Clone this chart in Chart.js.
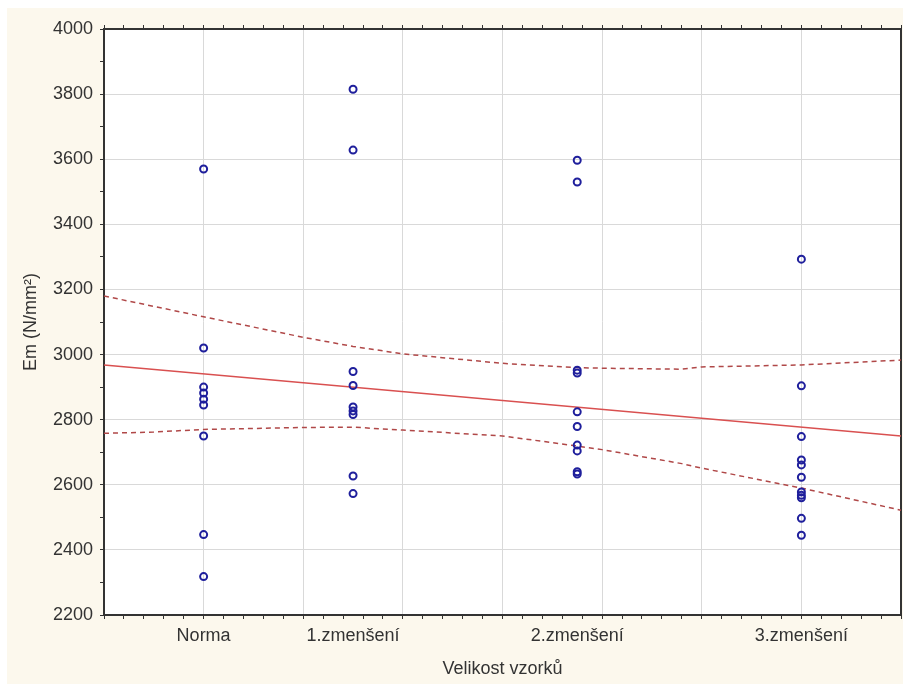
<!DOCTYPE html>
<html><head><meta charset="utf-8">
<script src="https://cdn.jsdelivr.net/npm/chart.js@4.4.1/dist/chart.umd.min.js"></script>
<style>html,body{margin:0;padding:0;background:#fff;}canvas{display:block;}</style>
</head><body>
<canvas id="c" width="903" height="684"></canvas>
<script>
// ---- data ----
const categories = ['Norma', '1.zmenšení', '2.zmenšení', '3.zmenšení'];
const categoryX = [1, 2.5, 4.75, 7];
const normaValues = [3570, 3020, 2900, 2882, 2863, 2845, 2750, 2447, 2318];
const zm1Values = [3815, 3628, 2948, 2905, 2839, 2827, 2816, 2627, 2573];
const zm2Values = [3597, 3530, 2952, 2943, 2824, 2779, 2722, 2704, 2640, 2633];
const zm3Values = [3293, 2904, 2748, 2676, 2661, 2623, 2578, 2568, 2560, 2497, 2445];
const fitX = [0, 8];
const fitY = [2968, 2750];
const bandX = [0, 0.5, 1, 2, 2.5, 3, 4, 4.75, 5, 5.8, 6, 7, 8];
const bandUpper = [3180, 3148, 3116, 3053, 3025, 3002, 2973, 2960, 2958, 2955, 2962, 2968, 2983];
const bandLower = [2758, 2762, 2770, 2776, 2777, 2768, 2750, 2719, 2708, 2665, 2651, 2590, 2522];
const yMin = 2200, yMax = 4000, yLabelStep = 200, yMinorStep = 100;
const xMin = 0, xMax = 8, xMinorStep = 0.2;

// ---- styling ----
const FONT = {family: '"Liberation Sans", Arial, sans-serif', size: 18};
const XTICK_FONT = {family: '"Liberation Sans", Arial, sans-serif', size: 18, lineHeight: 1.87};
const TXT = '#333333';
const GRID = '#d9d9d9';
const AXIS = '#333333';
const near = (a, b) => Math.abs(a - b) < 1e-6;

const groups = [normaValues, zm1Values, zm2Values, zm3Values];
const scatterPts = [];
groups.forEach((vals, i) => vals.forEach(v => scatterPts.push({x: categoryX[i], y: v})));
const toPts = (xs, ys) => xs.map((x, i) => ({x, y: ys[i]}));

function xTickList(withCats) {
  const t = [];
  const n = Math.round((xMax - xMin) / xMinorStep);
  for (let i = 0; i <= n; i++) t.push({value: +(xMin + i * xMinorStep).toFixed(6)});
  if (withCats) categoryX.forEach(p => { if (!t.some(k => near(k.value, p))) t.push({value: p}); });
  t.sort((a, b) => a.value - b.value);
  return t;
}
const isInt = v => near(v, Math.round(v));
const isCatOnly = v => categoryX.some(p => near(p, v)) && !near(v / xMinorStep, Math.round(v / xMinorStep));

const bgPlugin = {
  id: 'bg',
  beforeDraw(chart) {
    const {ctx, chartArea: a, width, height} = chart;
    ctx.save();
    ctx.fillStyle = '#ffffff';
    ctx.fillRect(0, 0, width, height);
    ctx.fillStyle = '#fcf8ed';
    ctx.fillRect(7, 8, width - 7, height - 8);
    ctx.fillStyle = '#ffffff';
    ctx.fillRect(a.left, a.top, a.right - a.left, a.bottom - a.top);
    ctx.restore();
  }
};

new Chart(document.getElementById('c'), {
  type: 'scatter',
  data: {
    datasets: [
      {label: 'data', data: scatterPts, pointRadius: 3.5, pointBorderWidth: 2,
       borderColor: '#1f1f9c', backgroundColor: 'rgba(0,0,0,0)', showLine: false},
      {label: 'fit', data: toPts(fitX, fitY), showLine: true, pointRadius: 0,
       borderColor: '#d95050', borderWidth: 1.6},
      {label: 'upper', data: toPts(bandX, bandUpper), showLine: true, pointRadius: 0,
       borderColor: '#b04848', borderWidth: 1.5, borderDash: [5, 4]},
      {label: 'lower', data: toPts(bandX, bandLower), showLine: true, pointRadius: 0,
       borderColor: '#b04848', borderWidth: 1.5, borderDash: [5, 4]}
    ]
  },
  options: {
    responsive: false,
    animation: false,
    devicePixelRatio: 1,
    layout: {autoPadding: false, padding: {left: 20, top: 25, right: 2, bottom: 0}},
    plugins: {legend: {display: false}, tooltip: {enabled: false}},
    scales: {
      x: {
        type: 'linear', position: 'bottom', min: xMin, max: xMax,
        afterBuildTicks: ax => { ax.ticks = xTickList(true); },
        afterFit: s => { s.height = 69; s.paddingRight = 0; s.paddingLeft = 0; },
        ticks: {
          autoSkip: false, maxRotation: 0, minRotation: 0, padding: 0, color: TXT, font: XTICK_FONT,
          callback: v => { const i = categoryX.findIndex(p => near(p, v)); return i >= 0 ? categories[i] : ''; }
        },
        grid: {
          color: c => (c.tick && isInt(c.tick.value)) ? GRID : 'rgba(0,0,0,0)',
          tickColor: c => (c.tick && isCatOnly(c.tick.value)) ? 'rgba(0,0,0,0)' : AXIS,
          tickLength: 4, lineWidth: 1
        },
        border: {color: AXIS, width: 2},
        title: {display: true, text: 'Velikost vzorků', color: TXT, font: FONT, padding: {top: 0, bottom: 4}}
      },
      x2: {
        type: 'linear', position: 'top', min: xMin, max: xMax,
        afterBuildTicks: ax => { ax.ticks = xTickList(false); },
        afterFit: s => { s.height = 4; s.paddingRight = 0; s.paddingLeft = 0; },
        ticks: {display: false, padding: 0},
        grid: {drawOnChartArea: false, tickColor: AXIS, tickLength: 4},
        border: {color: AXIS, width: 2}
      },
      y: {
        type: 'linear', position: 'left', min: yMin, max: yMax,
        afterBuildTicks: ax => {
          const t = [];
          for (let v = yMin; v <= yMax; v += yMinorStep) t.push({value: v});
          ax.ticks = t;
        },
        afterFit: s => { s.width = 84; },
        ticks: {
          autoSkip: false, padding: 7, color: TXT, font: FONT,
          callback: v => (v % yLabelStep === 0) ? String(v) : ''
        },
        grid: {
          color: c => (c.tick && c.tick.value % yLabelStep === 0) ? GRID : 'rgba(0,0,0,0)',
          tickColor: AXIS, tickLength: 4, lineWidth: 1
        },
        border: {color: AXIS, width: 2},
        title: {display: true, text: 'Em (N/mm²)', color: TXT, font: FONT, padding: {top: 0, bottom: 0}}
      },
      y2: {
        type: 'linear', position: 'right', min: yMin, max: yMax,
        afterFit: s => { s.width = 0; },
        ticks: {display: false, padding: 0},
        grid: {drawOnChartArea: false, drawTicks: false},
        border: {color: AXIS, width: 2}
      }
    }
  },
  plugins: [bgPlugin]
});
</script>
</body></html>
